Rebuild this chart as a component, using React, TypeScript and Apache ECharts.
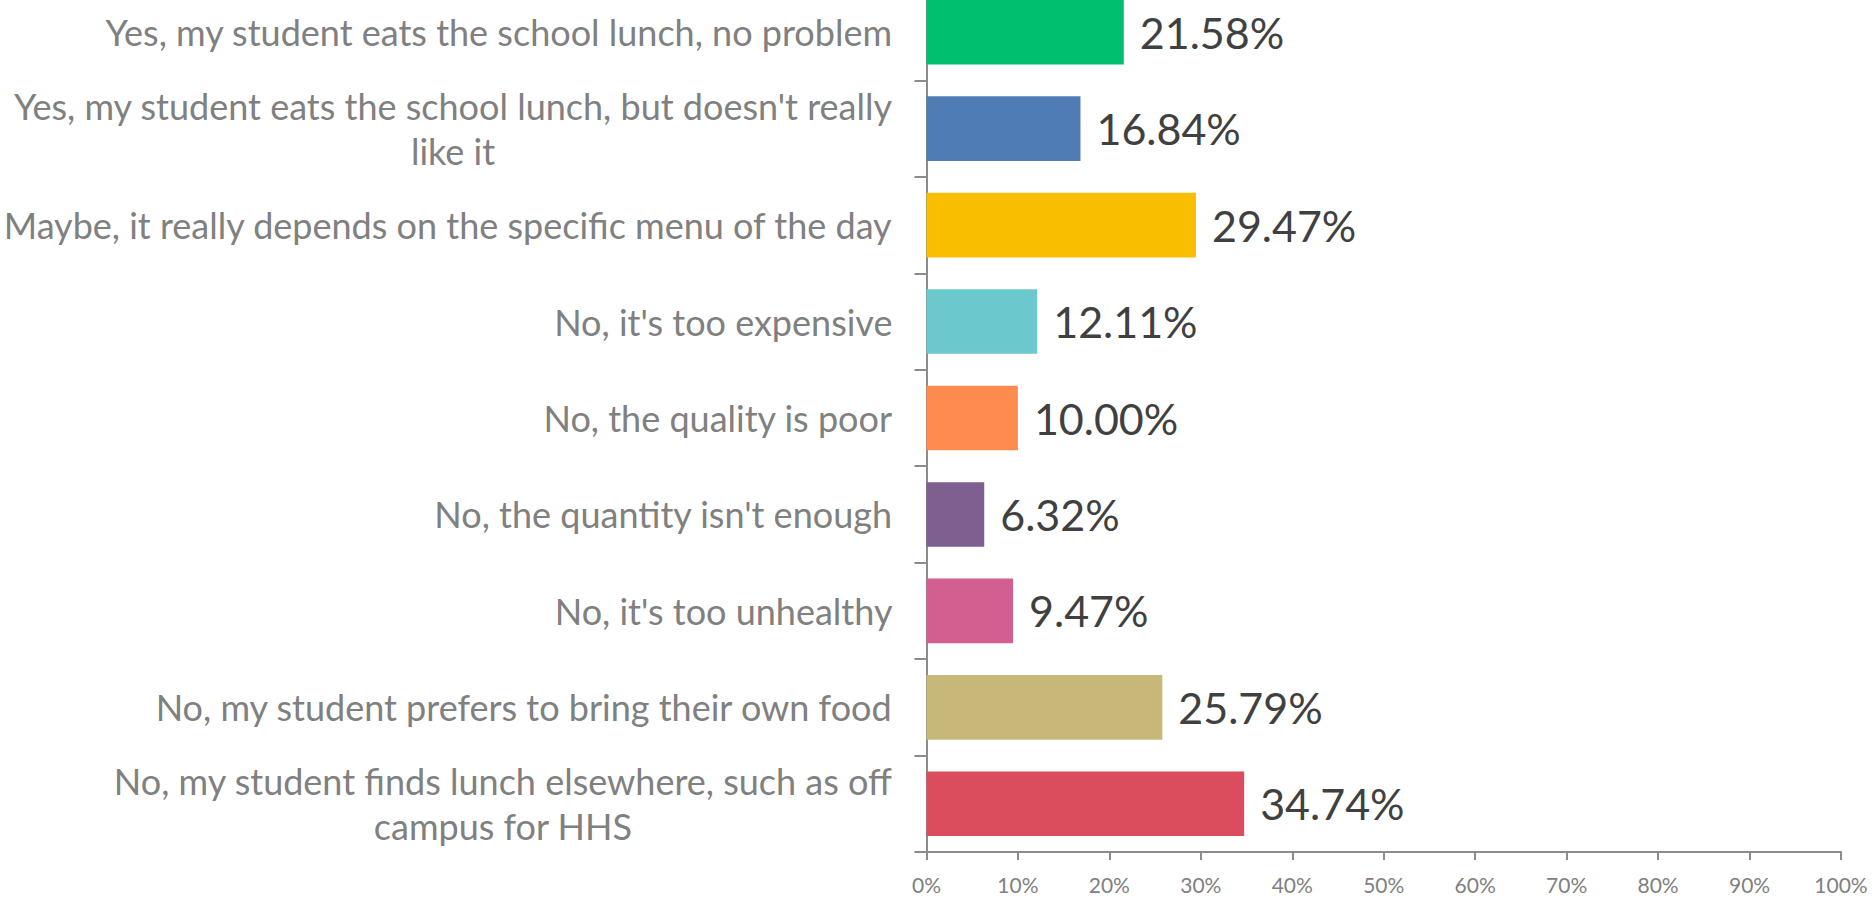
import React, { useEffect, useRef } from "react";
import * as echarts from "echarts";

const categories: string[] = [
  "Yes, my student eats the school lunch, no problem",
  "Yes, my student eats the school lunch, but doesn't really\nlike it",
  "Maybe, it really depends on the specific menu of the day",
  "No, it's too expensive",
  "No, the quality is poor",
  "No, the quantity isn't enough",
  "No, it's too unhealthy",
  "No, my student prefers to bring their own food",
  "No, my student finds lunch elsewhere, such as off\ncampus for HHS",
];

const values: number[] = [21.58, 16.84, 29.47, 12.11, 10.0, 6.32, 9.47, 25.79, 34.74];

const barColors: string[] = [
  "#00BF6F",
  "#507CB6",
  "#F9BE00",
  "#6BC8CD",
  "#FF8B4F",
  "#7F5F90",
  "#D25F90",
  "#C7B879",
  "#DB4D5C",
];

const FONT = "Lato, 'Open Sans', sans-serif";

export default function App() {
  const ref = useRef<HTMLDivElement>(null);

  useEffect(() => {
    if (!ref.current) return;
    const chart = echarts.init(ref.current, undefined, { renderer: "svg" });
    chart.setOption({
      animation: false,
      backgroundColor: "#ffffff",
      grid: { left: 926, right: 33, top: 4, bottom: 51, containLabel: false },
      xAxis: {
        type: "value",
        min: 0,
        max: 100,
        interval: 10,
        axisLine: { show: true, lineStyle: { color: "#8c8c8c", width: 2 } },
        axisTick: { show: true, length: 8, lineStyle: { color: "#8c8c8c", width: 2 } },
        splitLine: { show: false },
        axisLabel: {
          formatter: "{value}%",
          color: "#808080",
          fontSize: 21,
          fontFamily: FONT,
          margin: 22,
        },
      },
      yAxis: {
        type: "category",
        data: categories,
        inverse: true,
        axisLine: { show: true, lineStyle: { color: "#8c8c8c", width: 2 } },
        axisTick: { show: true, length: 12, lineStyle: { color: "#8c8c8c", width: 2 } },
        axisLabel: {
          margin: 34,
          color: "#808080",
          fontSize: 36,
          fontFamily: FONT,
          lineHeight: 45,
          formatter: (v: string) =>
            v
              .split("\n")
              .map((l) => `{c|${l}}`)
              .join("\n"),
          rich: {
            c: {
              align: "center",
              color: "#808080",
              fontSize: 36,
              fontFamily: FONT,
              lineHeight: 45,
            },
          },
        },
      },
      series: [
        {
          type: "bar",
          data: values.map((v, i) => ({ value: v, itemStyle: { color: barColors[i] } })),
          barCategoryGap: "33%",
          label: {
            show: true,
            position: "right",
            distance: 16,
            formatter: (p: any) => `${Number(p.value).toFixed(2)}%`,
            color: "#404040",
            fontSize: 43,
            fontFamily: FONT,
          },
        },
      ],
    });
    return () => chart.dispose();
  }, []);

  return (
    <div
      ref={ref}
      style={{ position: "absolute", left: 0, top: -20, width: 1874, height: 923 }}
    />
  );
}
